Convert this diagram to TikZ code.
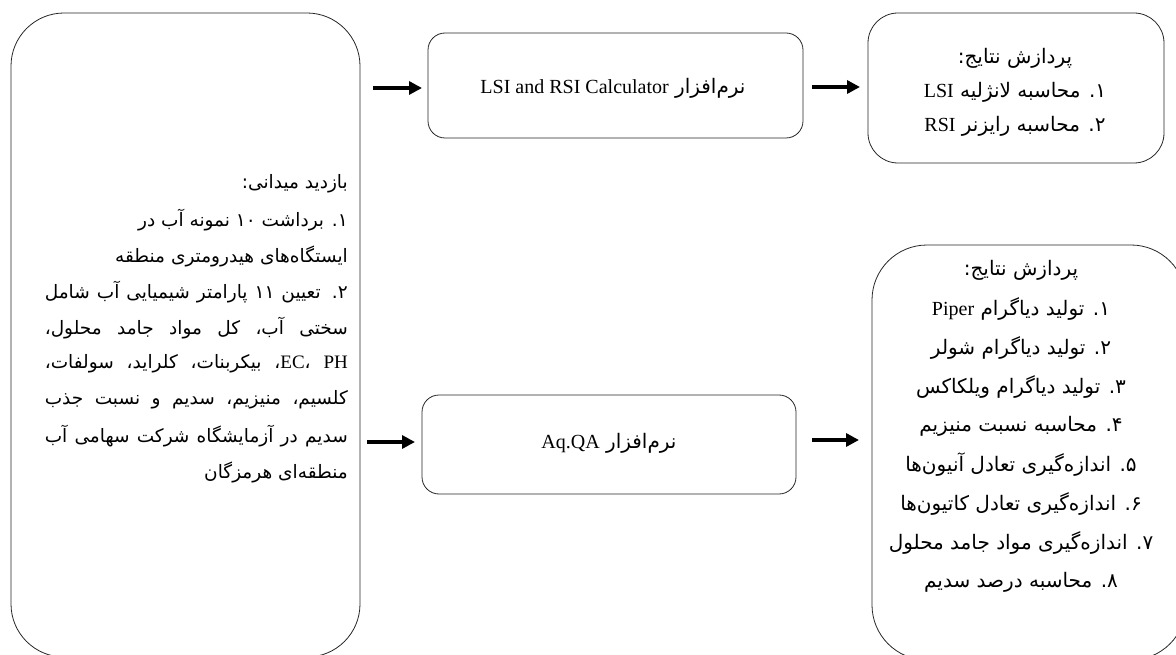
\documentclass[tikz,border=0pt]{standalone}
\usepackage{fontspec}
\setmainfont{Liberation Serif}
\newfontfamily\fa[Script=Arabic]{DejaVu Sans}
\newfontfamily\lat{Liberation Serif}
\TeXXeTstate=1
\usetikzlibrary{arrows.meta}
\newcommand{\fl}[1]{\beginR #1\endR}
\newcommand{\la}[1]{\beginL{\lat\fontsize{20}{22}\selectfont #1}\endL}
\newcommand{\jl}[1]{\makebox[303pt][s]{\beginR #1\endR}}
\begin{document}
\begin{tikzpicture}[x=1pt,y=-1pt,
  frame/.style={draw=black!85, line width=0.8pt, inner sep=0pt, outer sep=0pt},
  fa/.style={font=\fa\fontsize{20}{23}\selectfont, inner sep=0pt},
  fal/.style={font=\fa\fontsize{18.5}{22}\selectfont, inner sep=0pt, anchor=east},
  arr/.style={line width=3.4pt, -{Triangle[length=13pt,width=13pt]}}]
\useasboundingbox (0,0) rectangle (1176,655);
\clip (0,0) rectangle (1176,655);
% boxes
\node[frame, rounded corners=53pt, minimum width=349pt, minimum height=644pt] (visit) at (185.5,335) {};
\node[frame, rounded corners=17pt, minimum width=375pt, minimum height=105pt] (lsi) at (615.5,85.5) {};
\node[frame, rounded corners=30pt, minimum width=296pt, minimum height=150pt] (res1) at (1016,88) {};
\node[frame, rounded corners=17pt, minimum width=374pt, minimum height=99pt] (aq) at (609,444.5) {};
\node[frame, rounded corners=55pt, minimum width=314pt, minimum height=415pt] (res2) at (1029,452.5) {};
% arrows
\coordinate (a1s) at (373,88); \coordinate (a1e) at (422,88);
\coordinate (a2s) at (812,87); \coordinate (a2e) at (860,87);
\coordinate (a3s) at (367,442); \coordinate (a3e) at (415,442);
\coordinate (a4s) at (812,440); \coordinate (a4e) at (859,440);
\draw[arr] (a1s) -- (a1e);
\draw[arr] (a2s) -- (a2e);
\draw[arr] (a3s) -- (a3e);
\draw[arr] (a4s) -- (a4e);
% middle texts
\node[fa] (tlsi) at (613,88) {\fl{نرم^^^^200cافزار \la{LSI and RSI Calculator}}};
\node[fa] (taq) at (609,443) {\fl{نرم^^^^200cافزار \la{Aq.QA}}};
% top right
\node[fa] (r1a) at (1015,58) {\fl{پردازش نتایج:}};
\node[fa] (r1b) at (1015,92) {\fl{۱. محاسبه لانژلیه \la{LSI}}};
\node[fa] (r1c) at (1015,126) {\fl{۲. محاسبه رایزنر \la{RSI}}};
% bottom right
\node[fa] (r2a) at (1021,270) {\fl{پردازش نتایج:}};
\node[fa] (r2b) at (1021,309) {\fl{۱. تولید دیاگرام \la{Piper}}};
\node[fa] (r2c) at (1021,348) {\fl{۲. تولید دیاگرام شولر}};
\node[fa] (r2d) at (1021,387) {\fl{۳. تولید دیاگرام ویلکاکس}};
\node[fa] (r2e) at (1021,426) {\fl{۴. محاسبه نسبت منیزیم}};
\node[fa] (r2f) at (1021,465) {\fl{۵. اندازه^^^^200cگیری تعادل آنیون^^^^200cها}};
\node[fa] (r2g) at (1021,504) {\fl{۶. اندازه^^^^200cگیری تعادل کاتیون^^^^200cها}};
\node[fa] (r2h) at (1021,543) {\fl{۷. اندازه^^^^200cگیری مواد جامد محلول}};
\node[fa] (r2i) at (1021,582) {\fl{۸. محاسبه درصد سدیم}};
% left box
\node[fal] (l1) at (348,184) {\fl{بازدید میدانی:}};
\node[fal] (l2) at (348,220) {\fl{۱. برداشت ۱۰ نمونه آب در}};
\node[fal] (l3) at (348,256) {\fl{ایستگاه^^^^200cهای هیدرومتری منطقه}};
\node[fal] (l4) at (348,292) {\jl{۲. تعیین ۱۱ پارامتر شیمیایی آب شامل}};
\node[fal] (l5) at (348,328) {\jl{سختی آب، کل مواد جامد محلول،}};
\node[fal] (l6) at (348,364) {\jl{\beginL{\lat\fontsize{19}{22}\selectfont EC}{\fa ،} {\lat\fontsize{19}{22}\selectfont PH}\endL، بیکربنات، کلراید، سولفات،}};
\node[fal] (l7) at (348,400) {\jl{کلسیم، منیزیم، سدیم و نسبت جذب}};
\node[fal] (l8) at (348,436) {\jl{سدیم در آزمایشگاه شرکت سهامی آب}};
\node[fal] (l9) at (348,472) {\fl{منطقه^^^^200cای هرمزگان}};
\end{tikzpicture}
\end{document}
